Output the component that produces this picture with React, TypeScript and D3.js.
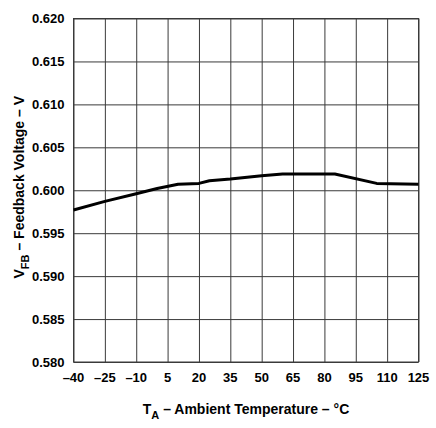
import React, { useEffect, useRef } from "react";
import * as d3 from "d3";

// curve
const temps = [-40, -25, -10, 0, 10, 20, 25, 35, 50, 60, 85, 105, 125];
const volts = [0.5977, 0.5987, 0.5996, 0.6002, 0.6007, 0.6008, 0.6011, 0.6013, 0.6017, 0.6019, 0.6019, 0.6008, 0.6007];

const xTicks = [-40, -25, -10, 5, 20, 35, 50, 65, 80, 95, 110, 125];
const yTicks = [0.58, 0.585, 0.59, 0.595, 0.6, 0.605, 0.61, 0.615, 0.62];

const App: React.FC = () => {
  const svgRef = useRef<SVGSVGElement | null>(null);

  useEffect(() => {
    d3.select(svgRef.current).selectAll("*").remove();

    const w = 436;
    const h = 428;
    const m = { top: 18.5, right: 17.5, bottom: 66, left: 73.5 };
    const font = "Arial, 'Liberation Sans', Helvetica, sans-serif";

    const svg = d3
      .select(svgRef.current)
      .attr("width", w)
      .attr("height", h)
      .style("background-color", "#ffffff");

    const xScale = d3.scaleLinear().domain([-40, 125]).range([m.left, w - m.right]);
    const yScale = d3.scaleLinear().domain([0.58, 0.62]).range([h - m.bottom, m.top]);

    // grid
    svg
      .append("g")
      .attr("transform", `translate(0, ${h - m.bottom})`)
      .call(
        d3.axisBottom(xScale)
          .tickValues(xTicks)
          .tickSize(-(h - m.top - m.bottom))
          .tickFormat(() => "")
      )
      .call(g => g.select(".domain").remove())
      .selectAll("line")
      .attr("stroke", "#3a3a3a")
      .attr("stroke-width", 1);

    svg
      .append("g")
      .attr("transform", `translate(${m.left}, 0)`)
      .call(
        d3.axisLeft(yScale)
          .tickValues(yTicks)
          .tickSize(-(w - m.left - m.right))
          .tickFormat(() => "")
      )
      .call(g => g.select(".domain").remove())
      .selectAll("line")
      .attr("stroke", "#3a3a3a")
      .attr("stroke-width", 1);

    svg
      .append("rect")
      .attr("x", m.left)
      .attr("y", m.top)
      .attr("width", w - m.left - m.right)
      .attr("height", h - m.top - m.bottom)
      .attr("fill", "none")
      .attr("stroke", "#3a3a3a")
      .attr("stroke-width", 1);

    // tick labels
    svg
      .append("g")
      .selectAll("text")
      .data(xTicks)
      .enter()
      .append("text")
      .attr("x", d => xScale(d))
      .attr("y", h - m.bottom + 20)
      .attr("text-anchor", "middle")
      .style("font-family", font)
      .style("font-weight", "bold")
      .style("font-size", "13px")
      .text(d => (d < 0 ? "\u2013" + Math.abs(d) : String(d)));

    svg
      .append("g")
      .selectAll("text")
      .data(yTicks)
      .enter()
      .append("text")
      .attr("x", m.left - 9)
      .attr("y", d => yScale(d) + 4.5)
      .attr("text-anchor", "end")
      .style("font-family", font)
      .style("font-weight", "bold")
      .style("font-size", "13px")
      .text(d => d3.format(".3f")(d));

    // curve
    const line = d3
      .line<number>()
      .x((_, i) => xScale(temps[i]))
      .y(d => yScale(d));

    svg
      .append("path")
      .datum(volts)
      .attr("d", line)
      .attr("fill", "none")
      .attr("stroke", "#000000")
      .attr("stroke-width", 3)
      .attr("stroke-linejoin", "round");

    // axis titles
    const xTitle = svg
      .append("text")
      .attr("x", (m.left + w - m.right) / 2)
      .attr("y", 413.5)
      .attr("text-anchor", "middle")
      .style("font-family", font)
      .style("font-weight", "bold")
      .style("font-size", "14px");
    xTitle.append("tspan").text("T");
    xTitle.append("tspan").attr("dy", 5).style("font-size", "11px").text("A");
    xTitle.append("tspan").attr("dy", -5).text(" \u2013 Ambient Temperature \u2013 \u00B0C");

    const yTitle = svg
      .append("text")
      .attr("transform", `translate(23.5, ${(m.top + h - m.bottom) / 2 - 3}) rotate(-90)`)
      .attr("text-anchor", "middle")
      .style("font-family", font)
      .style("font-weight", "bold")
      .style("font-size", "14px");
    yTitle.append("tspan").text("V");
    yTitle.append("tspan").attr("dy", 5).style("font-size", "11px").text("FB");
    yTitle.append("tspan").attr("dy", -5).text(" \u2013 Feedback Voltage \u2013 V");
  }, []);

  return (
    <div style={{ position: "fixed", left: 0, top: 0, width: 436, height: 428 }}>
      <svg ref={svgRef} style={{ display: "block" }}></svg>
    </div>
  );
};

export default App;
